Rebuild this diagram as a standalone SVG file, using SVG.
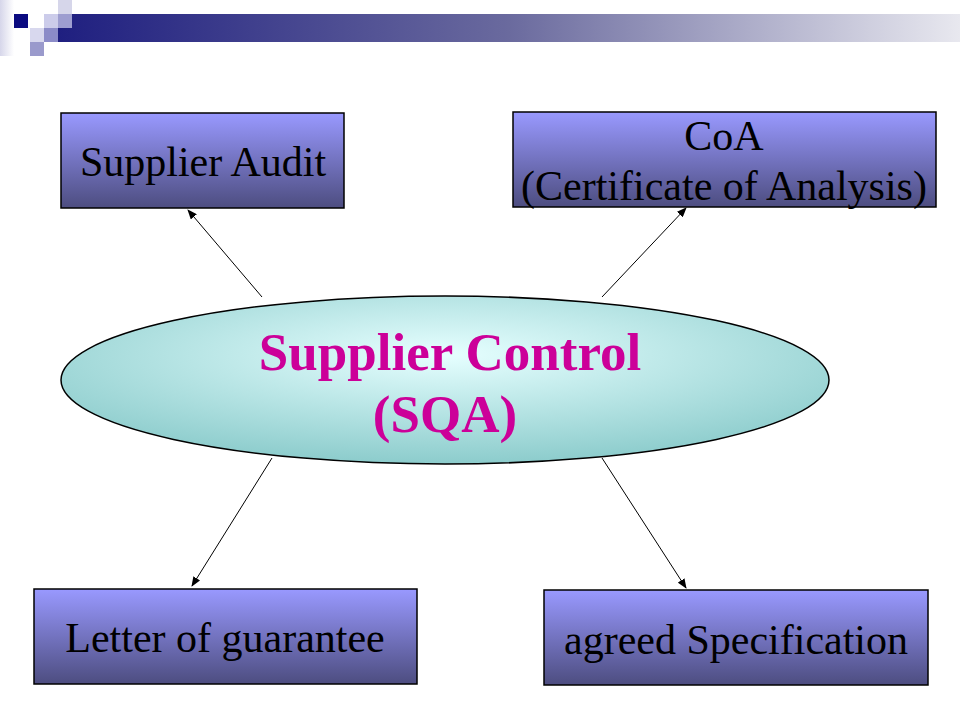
<svg xmlns="http://www.w3.org/2000/svg" width="960" height="720" viewBox="0 0 960 720">
<defs>
<linearGradient id="box" x1="0" y1="0" x2="0" y2="1"><stop offset="0" stop-color="#9999ff"/><stop offset="1" stop-color="#4d4d80"/></linearGradient>
<linearGradient id="bar" x1="0" y1="0" x2="1" y2="0"><stop offset="0" stop-color="#1f1f80"/><stop offset="0.5" stop-color="#6a6a9e"/><stop offset="1" stop-color="#e8e8ef"/></linearGradient>
<linearGradient id="col" x1="0" y1="0" x2="1" y2="0"><stop offset="0" stop-color="#d6d6ea"/><stop offset="1" stop-color="#ffffff"/></linearGradient>
<radialGradient id="ell" cx="0.5" cy="0.35" r="0.65"><stop offset="0" stop-color="#e6ffff"/><stop offset="1" stop-color="#8ccccc"/></radialGradient>
<marker id="ar" markerWidth="10" markerHeight="8" refX="9" refY="4" orient="auto" markerUnits="userSpaceOnUse"><path d="M0,0 L10,4 L0,8 z" fill="#000"/></marker>
<style>.b{fill:url(#box);stroke:#000;stroke-width:1.5}.t{font-family:"Liberation Serif",serif;font-size:42px;fill:#000;text-anchor:middle}.c{stroke:#000;stroke-width:1;fill:none;marker-end:url(#ar)}.h{font-family:"Liberation Serif",serif;font-size:53px;font-weight:bold;fill:#cc0099;text-anchor:middle}</style>
</defs>
<rect width="960" height="720" fill="#fff"/>
<g id="decor">
<rect x="0" y="0" width="14" height="56" fill="url(#col)"/>
<rect x="58" y="14" width="902" height="28" fill="url(#bar)"/>
<rect x="14" y="14" width="14" height="14" fill="#0a0a80"/>
<rect x="44" y="14" width="14" height="14" fill="#ccccea"/>
<rect x="58" y="0" width="14" height="14" fill="#d6d6ea"/>
<rect x="58" y="14" width="14" height="14" fill="#9e9ed0"/>
<rect x="30" y="28" width="14" height="14" fill="#d8d8ee"/>
<rect x="44" y="28" width="14" height="14" fill="#8c8cc8"/>
<rect x="30" y="42" width="14" height="14" fill="#9a9acc"/>
</g>
<g id="connectors">
<line class="c" x1="262" y1="297" x2="188" y2="210"/>
<line class="c" x1="602" y1="297" x2="686" y2="208"/>
<line class="c" x1="272" y1="458" x2="192" y2="586"/>
<line class="c" x1="602" y1="458" x2="686" y2="588"/>
</g>
<g id="center"><ellipse cx="445" cy="380" rx="384" ry="84" fill="url(#ell)" stroke="#000" stroke-width="1.5"/>
<text class="h" x="450" y="370">Supplier Control</text>
<text class="h" x="445" y="432">(SQA)</text></g>
<g id="audit"><rect class="b" x="61" y="113" width="283" height="95"/><text class="t" x="203" y="176">Supplier Audit</text></g>
<g id="coa"><rect class="b" x="513" y="112" width="423" height="95"/><text class="t" x="724" y="150">CoA</text><text class="t" x="724" y="200">(Certificate of Analysis)</text></g>
<g id="letter"><rect class="b" x="34" y="589" width="383" height="95"/><text class="t" x="225" y="652">Letter of guarantee</text></g>
<g id="spec"><rect class="b" x="544" y="590" width="384" height="95"/><text class="t" x="736" y="654">agreed Specification</text></g>
</svg>
